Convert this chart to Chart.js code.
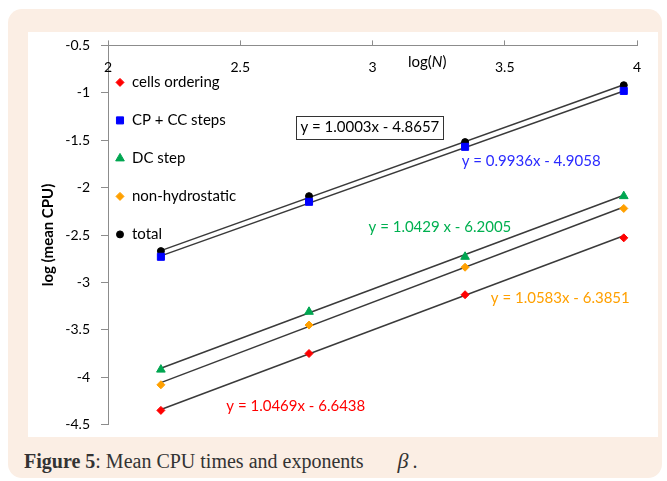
<!DOCTYPE html>
<html>
<head>
<meta charset="utf-8">
<script src="https://cdn.jsdelivr.net/npm/chart.js@4.4.0/dist/chart.umd.min.js"></script>
<style>
  html, body { margin: 0; padding: 0; background: #fff; }
  #frame { position: absolute; left: 8px; top: 9px; width: 654px; height: 469px; background: #fbeee4; border-radius: 14px; }
  #plot { position: absolute; left: 28px; top: 32px; width: 630px; height: 405px; background: #fff; }
  #c { position: absolute; left: 28px; top: 26px; }
  #caption { position: absolute; left: 24px; top: 448px; font-family: "Liberation Serif", serif; font-size: 20px; color: #333; white-space: nowrap; }
  #caption i { margin-left: 34px; margin-right: 4px; font-size: 22px; }
</style>
</head>
<body>
<div id="frame"></div>
<div id="plot"></div>
<canvas id="c" width="630" height="418"></canvas>
<div id="caption"><b>Figure 5</b>: Mean CPU times and exponents<i>β</i>.</div>
<script>
// log(N) of the runs
const logN = [2.2, 2.76, 3.35, 3.95];

// log(mean CPU) per phase
const cellsOrdering = [-4.35, -3.75, -3.13, -2.53];
const cpCcSteps = [-2.73, -2.15, -1.57, -0.98];
const dcStep = [-3.92, -3.31, -2.73, -2.09];
const nonHydrostatic = [-4.08, -3.45, -2.84, -2.22];
const total = [-2.67, -2.09, -1.52, -0.92];

// fitted trend lines as printed on the chart
const slopes = [1.0469, 0.9936, 1.0429, 1.0583, 1.0003];
const intercepts = [-6.6438, -4.9058, -6.2005, -6.3851, -4.8657];
const equations = [
  "y = 1.0469x - 6.6438",
  "y = 0.9936x - 4.9058",
  "y = 1.0429 x - 6.2005",
  "y = 1.0583x - 6.3851",
  "y = 1.0003x - 4.8657",
];

const seriesNames = ["cells ordering", "CP + CC steps", "DC step", "non-hydrostatic", "total"];
const seriesValues = [cellsOrdering, cpCcSteps, dcStep, nonHydrostatic, total];
const xTicks = [2, 2.5, 3, 3.5, 4];

const FONT = "Lato, 'Open Sans', sans-serif";
const styles = [
  { color: "#ff0000", text: "#ff0000", pointStyle: "rectRot", radius: 4 },
  { color: "#0000ff", text: "#2b2bff", pointStyle: "rect", radius: 5 },
  { color: "#00a651", text: "#00b050", pointStyle: "triangle", radius: 5 },
  { color: "#ffa000", text: "#ffa000", pointStyle: "rectRot", radius: 4 },
  { color: "#000000", text: "#000000", pointStyle: "circle", radius: 3.5 },
];
// where each equation sits, in data units
const eqPos = [
  { x: 2.71, y: -4.31 },
  { x: 3.60, y: -1.72 },
  { x: 3.255, y: -2.42 },
  { x: 3.71, y: -3.165 },
  { x: 2.99, y: -1.36, boxed: true },
];

const datasets = [];
seriesValues.forEach((vals, i) => {
  datasets.push({
    label: seriesNames[i],
    data: vals.map((v, k) => ({ x: logN[k], y: v })),
    showLine: false,
    pointStyle: styles[i].pointStyle,
    pointRadius: styles[i].radius,
    pointBackgroundColor: styles[i].color,
    pointBorderColor: styles[i].color,
    pointBorderWidth: 1,
    order: 1,
  });
});
seriesValues.forEach((vals, i) => {
  const x0 = logN[0], x1 = logN[logN.length - 1];
  datasets.push({
    label: "trend " + i,
    data: [
      { x: x0, y: slopes[i] * x0 + intercepts[i] },
      { x: x1, y: slopes[i] * x1 + intercepts[i] },
    ],
    showLine: true,
    borderColor: "#3a3a3a",
    borderWidth: 1.5,
    pointRadius: 0,
    order: 2,
  });
});

const decorations = {
  id: "decorations",
  afterDatasetsDraw(chart) {
    const ctx = chart.ctx;
    const xs = chart.scales.x, ys = chart.scales.y;
    ctx.save();
    // x tick labels sit under the top axis
    ctx.fillStyle = "#000";
    ctx.font = "14px " + FONT;
    ctx.textAlign = "center";
    ctx.textBaseline = "middle";
    xTicks.forEach((t) => ctx.fillText(String(t), xs.getPixelForValue(t), chart.chartArea.top + 22));
    // x title log(N)
    ctx.textAlign = "left";
    const tx = xs.getPixelForValue(3.21) - 20;
    const ty = chart.chartArea.top + 17;
    ctx.font = "15px " + FONT;
    ctx.fillText("log(", tx, ty);
    let w = ctx.measureText("log(").width;
    ctx.font = "italic 15px " + FONT;
    ctx.fillText("N", tx + w, ty);
    w += ctx.measureText("N").width;
    ctx.font = "15px " + FONT;
    ctx.fillText(")", tx + w, ty);

    // legend inside the plot
    ctx.font = "15px " + FONT;
    seriesNames.forEach((name, i) => {
      const y = chart.chartArea.top + 37 + i * 38;
      ctx.fillStyle = styles[i].color;
      ctx.strokeStyle = styles[i].color;
      ctx.lineWidth = 1;
      Chart.helpers.drawPoint(ctx, { pointStyle: styles[i].pointStyle, radius: styles[i].radius, borderWidth: 1, rotation: 0 }, 92, y);
      ctx.fillStyle = "#000";
      ctx.textAlign = "left";
      ctx.fillText(name, 104, y);
    });

    // trend equations
    ctx.font = "15px " + FONT;
    ctx.textAlign = "center";
    equations.forEach((eq, i) => {
      const px = xs.getPixelForValue(eqPos[i].x);
      const py = ys.getPixelForValue(eqPos[i].y);
      if (eqPos[i].boxed) {
        const bw = ctx.measureText(eq).width + 8;
        ctx.fillStyle = "#fff";
        ctx.fillRect(px - bw / 2, py - 11, bw, 23);
        ctx.strokeStyle = "#333";
        ctx.lineWidth = 1;
        ctx.strokeRect(Math.round(px - bw / 2) + 0.5, Math.round(py - 11) + 0.5, Math.round(bw), 23);
      }
      ctx.fillStyle = styles[i].text;
      ctx.fillText(eq, px, py);
    });
    ctx.restore();
  },
};

new Chart(document.getElementById("c"), {
  type: "scatter",
  data: { datasets },
  options: {
    responsive: false,
    animation: false,
    layout: { padding: { left: 0, right: 21, top: 0, bottom: 15 } },
    plugins: { legend: { display: false }, tooltip: { enabled: false } },
    scales: {
      x: {
        type: "linear",
        position: "top",
        min: 2,
        max: 4,
        afterBuildTicks: (scale) => { scale.ticks = xTicks.map((v) => ({ value: v })); },
        afterFit: (scale) => { scale.height = 13; },
        grid: { drawOnChartArea: false, drawTicks: true, tickLength: 5, color: "#8c8c8c" },
        border: { color: "#8c8c8c", width: 1 },
        ticks: { color: "rgba(0,0,0,0)" },
      },
      y: {
        type: "linear",
        min: -4.5,
        max: -0.5,
        afterFit: (scale) => { scale.width = 80; },
        grid: { drawOnChartArea: false, drawTicks: true, tickLength: 7, color: "#8c8c8c" },
        border: { color: "#8c8c8c", width: 1 },
        ticks: {
          stepSize: 0.5,
          padding: 11,
          color: "#000",
          font: { family: FONT, size: 14 },
          callback: (v) => String(v),
        },
        title: {
          display: true,
          text: "log (mean CPU)",
          color: "#000",
          font: { family: FONT, size: 15, weight: "bold" },
          padding: { top: 11, bottom: 0 },
        },
      },
    },
  },
  plugins: [decorations],
});
</script>
</body>
</html>
